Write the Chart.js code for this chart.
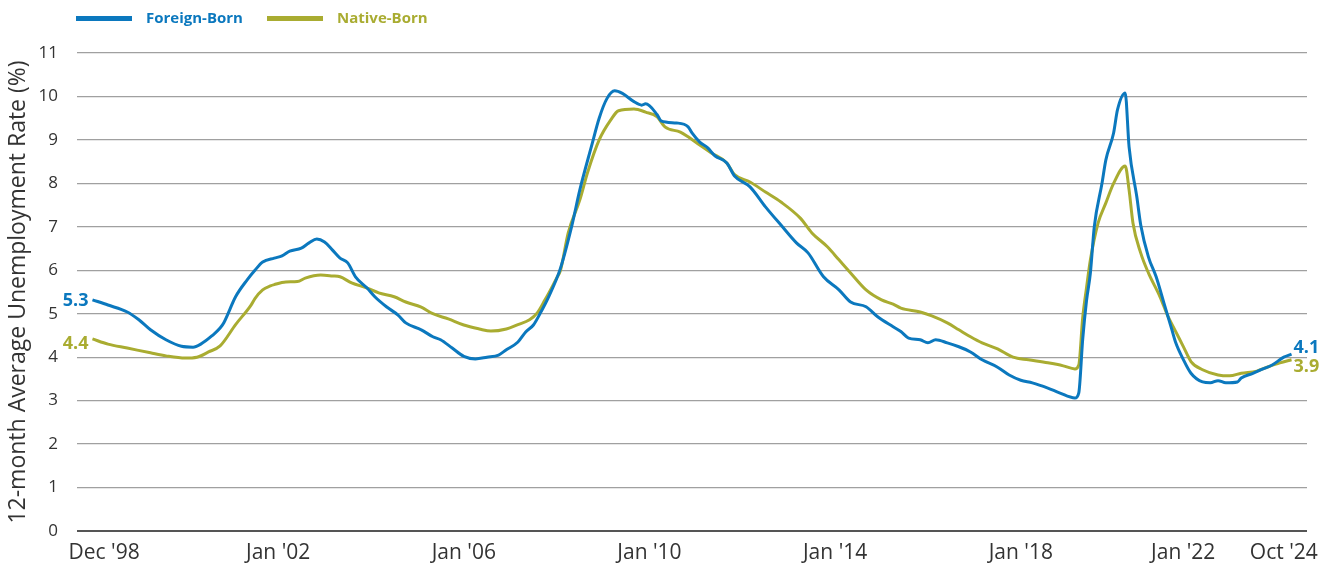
<!DOCTYPE html>
<html>
<head>
<meta charset="utf-8">
<script src="https://cdn.jsdelivr.net/npm/chart.js@4.4.0/dist/chart.umd.min.js"></script>
<style>
  html, body { margin: 0; padding: 0; background: #fff; }
  #wrap { position: relative; width: 1331px; height: 565px; }
  #legend { position: absolute; left: 0; top: 0; width: 600px; height: 40px; font-family: "Open Sans", sans-serif; font-weight: 700; font-size: 15px; }
  .sw { position: absolute; top: 16px; width: 56px; height: 5px; }
  .lt { position: absolute; top: 7px; line-height: 20px; }
</style>
</head>
<body>
<div id="wrap">
  <canvas id="c" width="1331" height="565"></canvas>
  <div id="legend">
    <div class="sw" style="left:76px;background:#0B78BE"></div>
    <div class="lt" style="left:146px;color:#0B78BE">Foreign-Born</div>
    <div class="sw" style="left:267px;background:#A9AC31"></div>
    <div class="lt" style="left:337px;color:#A9AC31">Native-Born</div>
  </div>
</div>
<script>
// Month index: 0 = Dec 1998, 310 = Oct 2024
const foreignMonths = [0,4,9,12,15,19,23,26,28,31,33,34,37,40,42,44,47,49,51,54,56,58,60,62,64,66,68,71,73,76,79,81,85,88,90,93,96,99,102,105,107,110,112,114,116,118,121,124,126,129,131,133,135,137,140,142,143,146,147,151,154,155,157,159,161,164,166,170,174,178,182,185,189,193,196,200,203,207,209,211,214,216,218,221,224,227,230,234,237,240,243,247,250,254,255,256,257,258,259,261,262,264,265,267,268,270,271,273,275,277,279,280,282,284,287,289,291,293,296,297,300,302,305,308,310];
const foreignRate = [5.32,5.20,5.04,4.86,4.63,4.40,4.25,4.23,4.30,4.50,4.67,4.80,5.39,5.78,6.00,6.19,6.28,6.33,6.44,6.51,6.63,6.72,6.65,6.47,6.28,6.17,5.85,5.59,5.39,5.16,4.97,4.79,4.63,4.47,4.40,4.21,4.02,3.96,4.00,4.05,4.17,4.35,4.58,4.74,5.05,5.40,6.05,7.05,7.85,8.85,9.50,9.95,10.13,10.07,9.88,9.80,9.83,9.58,9.44,9.39,9.30,9.16,8.95,8.82,8.63,8.47,8.17,7.92,7.46,7.04,6.63,6.40,5.85,5.55,5.27,5.16,4.93,4.70,4.59,4.44,4.40,4.33,4.40,4.33,4.24,4.12,3.94,3.77,3.59,3.47,3.41,3.29,3.18,3.06,3.18,4.40,5.30,5.94,7.00,8.00,8.54,9.16,9.69,10.08,8.84,7.69,7.05,6.31,5.85,5.25,4.65,4.35,3.95,3.63,3.43,3.41,3.46,3.41,3.43,3.52,3.63,3.71,3.82,4.00,4.07];

const nativeMonths = [0,4,9,15,19,24,27,30,33,37,41,42,44,46,47,50,53,55,59,62,64,67,71,74,78,81,85,88,92,96,100,103,107,110,113,115,117,118,120,121,123,126,128,131,134,136,140,143,146,148,152,154,157,160,164,166,170,174,178,183,186,190,193,196,200,204,207,209,214,217,221,224,227,230,234,238,242,247,251,254,255,256,257,258,260,262,264,267,268,269,271,273,276,278,280,282,284,287,291,294,297,301,304,307,310];
const nativeRate = [4.42,4.30,4.21,4.10,4.03,3.98,4.00,4.12,4.26,4.75,5.20,5.35,5.55,5.64,5.67,5.73,5.74,5.82,5.89,5.87,5.85,5.71,5.59,5.48,5.39,5.27,5.15,5.00,4.88,4.74,4.65,4.60,4.65,4.75,4.86,5.02,5.32,5.48,5.82,6.00,6.86,7.62,8.25,9.00,9.46,9.67,9.71,9.64,9.53,9.30,9.18,9.07,8.88,8.70,8.47,8.20,8.03,7.80,7.57,7.20,6.86,6.54,6.24,5.94,5.55,5.32,5.22,5.13,5.04,4.95,4.79,4.63,4.47,4.33,4.19,4.00,3.94,3.87,3.80,3.73,3.82,4.90,5.60,6.24,7.09,7.55,8.00,8.40,7.85,7.09,6.40,5.94,5.39,4.95,4.60,4.25,3.90,3.71,3.59,3.57,3.63,3.68,3.78,3.87,3.94];

const tickMonths = [3, 48, 96, 144, 192, 240, 282, 308];
const tickLabels = ["Dec '98", "Jan '02", "Jan '06", "Jan '10", "Jan '14", "Jan '18", "Jan '22", "Oct '24"];
const yTicks = [0,1,2,3,4,5,6,7,8,9,10,11];

const seriesNames = ["Foreign-Born", "Native-Born"];
const BLUE = '#0B78BE', GREEN = '#A9AC31';
const FONT = '"Open Sans", sans-serif';

const toPts = (m, v) => m.map((x, i) => ({ x, y: v[i] }));

const endLabels = {
  id: 'endLabels',
  afterDatasetsDraw(chart) {
    const ctx = chart.ctx;
    ctx.save();
    ctx.font = 'bold 18px ' + FONT;
    ctx.textBaseline = 'middle';
    const cfg = [
      { ds: 0, color: BLUE, startDy: 1, endDy: -6 },
      { ds: 1, color: GREEN, startDy: 5, endDy: 7 }
    ];
    cfg.forEach(c => {
      const d = chart.data.datasets[c.ds].data;
      const pts = chart.getDatasetMeta(c.ds).data;
      const first = pts[0], last = pts[pts.length - 1];
      ctx.fillStyle = c.color;
      ctx.textAlign = 'right';
      ctx.fillText(d[0].y.toFixed(1), first.x - 4, first.y + c.startDy);
      ctx.textAlign = 'left';
      ctx.fillText(d[d.length - 1].y.toFixed(1), last.x + 2, last.y + c.endDy);
    });
    ctx.restore();
  }
};

new Chart(document.getElementById('c'), {
  type: 'line',
  data: {
    datasets: [
      { label: seriesNames[0], data: toPts(foreignMonths, foreignRate), borderColor: BLUE, backgroundColor: BLUE, borderWidth: 3, pointRadius: 0, cubicInterpolationMode: 'monotone', order: 0 },
      { label: seriesNames[1], data: toPts(nativeMonths, nativeRate), borderColor: GREEN, backgroundColor: GREEN, borderWidth: 3, pointRadius: 0, cubicInterpolationMode: 'monotone', order: 1 }
    ]
  },
  options: {
    responsive: false,
    animation: false,
    layout: { padding: { top: 53, right: 24, left: 0, bottom: 0 } },
    plugins: { legend: { display: false }, tooltip: { enabled: false } },
    scales: {
      x: {
        type: 'linear', min: -4, max: 314,
        afterBuildTicks: s => { s.ticks = tickMonths.map(v => ({ value: v })); },
        afterFit: s => { s.height = 34; },
        ticks: {
          autoSkip: false, maxRotation: 0, padding: 1,
          color: '#333', font: { family: FONT, size: 21 },
          callback: v => { const k = tickMonths.indexOf(v); return k >= 0 ? tickLabels[k] : ''; }
        },
        grid: { display: false },
        border: { display: false }
      },
      y: {
        min: 0, max: 11,
        afterBuildTicks: s => { s.ticks = yTicks.map(v => ({ value: v })); },
        afterFit: s => { s.width = 77; },
        ticks: { color: '#333', font: { family: FONT, size: 17 }, padding: 19 },
        grid: {
          drawTicks: false,
          color: c => c.tick && c.tick.value === 0 ? '#555' : '#a0a0a0',
          lineWidth: c => c.tick && c.tick.value === 0 ? 2 : 1.3
        },
        border: { display: false },
        title: { display: true, text: '12-month Average Unemployment Rate (%)', color: '#333', font: { family: FONT, size: 23 }, padding: { top: 5, bottom: 0 } }
      }
    }
  },
  plugins: [endLabels]
});
</script>
</body>
</html>
